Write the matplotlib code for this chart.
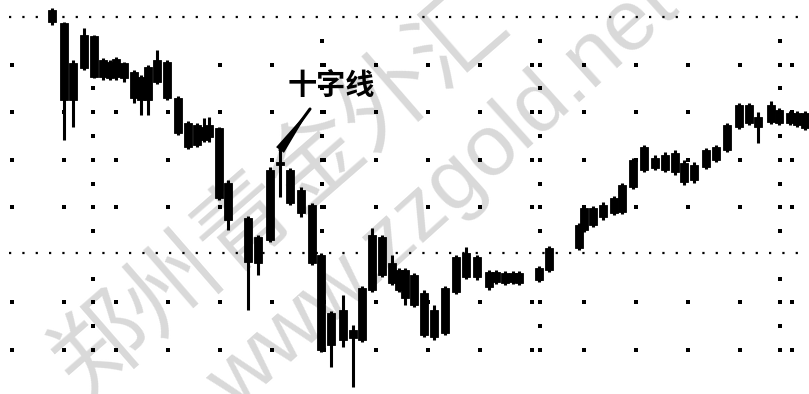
import matplotlib
matplotlib.use("Agg")
import matplotlib.pyplot as plt
import numpy as np

plt.rcParams['font.family'] = ['Noto Sans CJK SC', 'DejaVu Sans']

# ---------------- data ----------------
days = [5.2, 6.4, 7.3, 8.4, 9.4, 10.3, 11.0, 11.6, 12.4, 13.4,
        14.1, 14.8, 15.7, 16.7, 17.8, 18.8, 19.7, 20.4, 20.9, 21.9,
        22.8, 24.8, 25.8, 27.0, 28.0, 29.0, 30.1, 31.2, 32.1, 33.1,
        34.3, 35.3, 36.2, 37.2, 38.2, 39.2, 39.9, 40.5, 41.4, 42.4,
        43.4, 44.5, 45.6, 46.6, 47.7, 48.9, 49.6, 50.5, 51.3, 51.9,
        53.9, 54.9, 57.9, 58.4, 59.3, 60.3, 61.4, 62.2, 63.3, 64.4,
        65.5, 66.5, 67.5, 68.4, 69.4, 70.6, 71.6, 72.7, 73.9, 74.9,
        75.8, 77.1, 77.9, 79.0, 79.7, 80.5]

opens = [38.4, 37.1, 29.4, 32.6, 35.8, 31.7, 33.2, 31.7, 33.1, 32.2,
         31.7, 29.4, 31.2, 33.2, 29.6, 27.1, 24.9, 26.7, 25.7, 26.6,
         21.1, 17.6, 13.1, 15.4, 23.2, 22.4, 20.4, 18.9, 13.9, 4.9,
         8.4, 6.4, 5.4, 10.4, 15.7, 13.1, 12.4, 12.4, 8.9, 10.1,
         5.7, 6.1, 10.2, 11.7, 13.7, 12.2, 11.2, 12.1, 11.2, 12.1,
         11.4, 12.4, 14.6, 16.4, 18.6, 17.7, 18.1, 18.2, 20.7, 22.4,
         23.6, 22.4, 24.1, 23.1, 21.4, 22.7, 23.4, 24.4, 26.7, 28.9,
         27.7, 27.2, 28.4, 28.1, 28.1, 28.1]

closes = [37.2, 29.4, 33.1, 35.9, 31.7, 33.4, 31.6, 33.5, 31.6, 29.6,
          29.4, 32.7, 33.4, 29.6, 26.1, 24.7, 26.9, 25.4, 26.9, 19.6,
          17.4, 13.2, 15.7, 22.4, 22.9, 19.1, 18.1, 13.1, 4.4, 8.1,
          5.4, 5.6, 10.6, 15.9, 11.9, 11.1, 10.4, 9.6, 11.9, 5.9,
          8.4, 10.6, 13.7, 14.1, 11.7, 10.7, 12.2, 11.1, 12.1, 11.1,
          12.6, 14.6, 16.9, 18.6, 16.9, 18.9, 19.6, 20.9, 23.4, 24.7,
          22.6, 23.9, 22.2, 21.2, 22.9, 24.4, 24.7, 26.9, 28.9, 27.1,
          26.7, 28.9, 27.1, 27.1, 26.9, 26.6]

highs = [38.6, 37.2, 33.4, 36.6, 35.9, 33.6, 33.4, 33.7, 33.2, 32.4,
         31.9, 32.9, 34.4, 33.4, 29.8, 27.3, 27.1, 27.6, 27.7, 26.7,
         21.4, 17.8, 15.9, 22.7, 24.4, 22.6, 20.7, 19.1, 14.1, 8.3,
         9.9, 6.9, 10.8, 16.6, 15.9, 13.9, 12.6, 12.6, 12.1, 10.4,
         8.9, 10.8, 13.9, 14.7, 13.9, 12.4, 12.4, 12.3, 12.3, 12.3,
         12.8, 14.8, 17.1, 18.8, 18.8, 19.2, 19.8, 21.1, 23.6, 24.9,
         23.9, 24.2, 24.4, 23.4, 23.2, 24.6, 24.9, 27.1, 29.1, 29.1,
         28.2, 29.3, 28.6, 28.3, 28.3, 28.3]

lows = [36.9, 25.4, 26.7, 32.4, 31.6, 31.4, 31.4, 31.4, 31.2, 29.1,
        27.9, 27.9, 31.0, 29.4, 25.9, 24.5, 24.7, 25.2, 25.2, 19.4,
        16.4, 8.4, 11.9, 15.2, 19.7, 18.9, 17.7, 12.9, 4.2, 2.7,
        4.7, 0.7, 5.2, 10.2, 11.7, 10.9, 10.2, 8.9, 8.7, 5.7,
        5.4, 5.9, 10.0, 11.5, 11.4, 10.4, 11.0, 10.9, 11.0, 10.9,
        11.2, 12.2, 14.4, 16.2, 16.7, 17.4, 17.9, 18.0, 20.5, 22.2,
        22.4, 22.2, 21.9, 20.9, 21.1, 22.5, 23.2, 24.2, 26.5, 26.9,
        25.1, 27.0, 26.9, 26.9, 26.7, 26.4]

reference_levels = [37.7, 14.1]          # the two dotted horizontal lines
annotation_text = "十字线"
doji_index = 24
watermark_cn = "郑州青金外汇"
watermark_url = "www.zzgold.net"

# ---------------- figure ----------------
fig = plt.figure(figsize=(8.09, 3.94), dpi=100)
ax = fig.add_axes([0, 0, 1, 1])
ax.set_xlim(0, 80.9)
ax.set_ylim(0, 39.4)
ax.axis('off')

# watermark
ax.text(0.346, 0.51, watermark_cn, transform=ax.transAxes, rotation=41,
        fontsize=68, color='#d9d9d9', ha='center', va='center', zorder=0,
        family=['Noto Sans CJK SC', 'DejaVu Sans'])
ax.text(0.548, 0.505, watermark_url, transform=ax.transAxes, rotation=42,
        fontsize=62, color='#d9d9d9', ha='center', va='center', zorder=0,
        family=['Liberation Sans', 'DejaVu Sans'])

# dotted reference lines
for lv in reference_levels:
    ax.plot([0.9, 80.9], [lv, lv], color='black', lw=1.6,
            linestyle=(0, (1, 5)), zorder=1)

# dot grid
top, bottom = reference_levels[0], 39.4 - 35.0
rows = np.linspace(top, bottom, 8)
half_rows = (rows[:-1] + rows[1:]) / 2
cols = np.arange(1.2, 80.9, 5.2)
special_cols = [9.3, 32.2, 54.0, 78.0]
gx, gy = [], []
for r in rows[1:]:
    if abs(r - reference_levels[1]) < 1.0:
        continue
    for c in cols:
        gx.append(c); gy.append(r)
for c in special_cols:
    for r in np.concatenate([rows[1:], half_rows]):
        if abs(r - reference_levels[1]) < 1.0:
            continue
        gx.append(c); gy.append(r)
ax.scatter(gx, gy, s=6, marker='s', color='black', linewidths=0, zorder=1)

# candles
width = 0.85
for d, o, h, l, c in zip(days, opens, highs, lows, closes):
    ax.vlines(d, l, h, color='black', lw=2.2, zorder=3)
    lo_b, hi_b = min(o, c), max(o, c)
    if hi_b - lo_b < 0.3:
        mid = (hi_b + lo_b) / 2
        lo_b, hi_b = mid - 0.15, mid + 0.15
    ax.bar(d, hi_b - lo_b, bottom=lo_b, width=width, color='black',
           edgecolor='black', linewidth=0.6, zorder=3)

# annotation for the doji
dx, dh = days[doji_index], highs[doji_index]
tip_end = (dx + 3.0, dh + 4.1)
ax.annotate('', xy=tip_end, xytext=(dx, dh),
            arrowprops=dict(arrowstyle='-', color='black', lw=2.2,
                            shrinkA=0, shrinkB=0), zorder=4)
ax.annotate('', xy=tip_end, xytext=(dx, dh),
            arrowprops=dict(arrowstyle='wedge,tail_width=0.7',
                            color='black', lw=0, shrinkA=0, shrinkB=0),
            zorder=4)
ax.text(dx + 5.1, dh + 6.5, annotation_text, fontsize=21, fontweight='bold',
        ha='center', va='center', color='black', zorder=4)

fig.savefig('out.png', dpi=100)
